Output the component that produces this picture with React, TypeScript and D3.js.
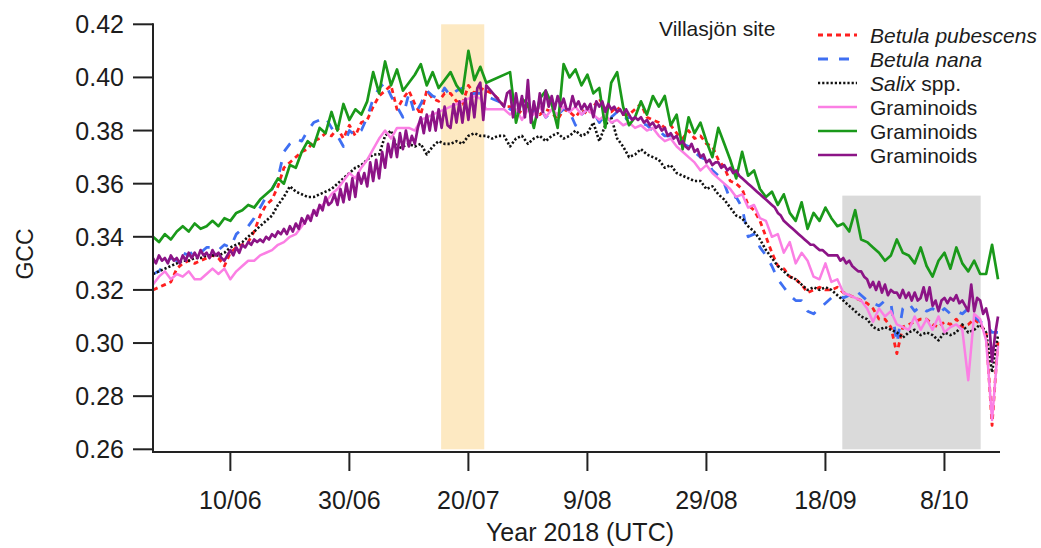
import React from "react";
import * as d3 from "d3";

// time axis: one value per day from 28 May 2018 (purple series: two per day)
const startDate = Date.UTC(2018, 4, 28);
const endDate = Date.UTC(2018, 9, 17, 8);
const DAY = 86400000;

const xTickDates = [
  Date.UTC(2018, 5, 10), Date.UTC(2018, 5, 30), Date.UTC(2018, 6, 20), Date.UTC(2018, 7, 9),
  Date.UTC(2018, 7, 29), Date.UTC(2018, 8, 18), Date.UTC(2018, 9, 8),
];
const xTickLabels = ["10/06", "30/06", "20/07", "9/08", "29/08", "18/09", "8/10"];
const yTicks = [0.26, 0.28, 0.3, 0.32, 0.34, 0.36, 0.38, 0.4, 0.42];

// shaded periods
const peakBand = [Date.UTC(2018, 6, 15, 10), Date.UTC(2018, 6, 22, 16)];
const autumnBand = [Date.UTC(2018, 8, 20, 20), Date.UTC(2018, 9, 14, 2)];
const autumnBandTop = 0.3555;

const betulaPubescens = [
  0.320, 0.321, 0.322, 0.323, 0.328, 0.330, 0.331, 0.330, 0.331, 0.332,
  0.333, 0.332, 0.329, 0.334, 0.336, 0.337, 0.338, 0.342, 0.348, 0.352,
  0.354, 0.359, 0.366, 0.368, 0.370, 0.372, 0.373, 0.376, 0.377, 0.379,
  0.378, 0.381, 0.377, 0.382, 0.378, 0.383, 0.384, 0.389, 0.393, 0.395,
  0.397, 0.388, 0.392, 0.395, 0.390, 0.386, 0.395, 0.392, 0.391, 0.394,
  0.394, 0.391, 0.390, 0.397, 0.394, 0.396, 0.395, 0.394, 0.392, 0.389,
  0.389, 0.385, 0.388, 0.389, 0.387, 0.386, 0.388, 0.387, 0.384, 0.388,
  0.387, 0.385, 0.388, 0.386, 0.389, 0.392, 0.388, 0.387, 0.389, 0.386,
  0.386, 0.388, 0.390, 0.385, 0.384, 0.383, 0.381, 0.382, 0.379, 0.377,
  0.380, 0.377, 0.378, 0.375, 0.374, 0.369, 0.366, 0.361, 0.360, 0.358,
  0.352, 0.350, 0.346, 0.340, 0.334, 0.329, 0.328, 0.325, 0.324, 0.322,
  0.319, 0.320, 0.321, 0.320, 0.320, 0.321, 0.319, 0.318, 0.317, 0.316,
  0.315, 0.313, 0.309, 0.309, 0.306, 0.296, 0.306, 0.307, 0.308, 0.309,
  0.309, 0.307, 0.306, 0.308, 0.307, 0.309, 0.306, 0.307, 0.309, 0.307,
  0.304, 0.269, 0.301,
];

const betulaNana = [
  0.326, 0.327, 0.330, 0.332, 0.331, 0.334, 0.333, 0.335, 0.334, 0.336,
  0.336, 0.335, 0.337, 0.336, 0.341, 0.343, 0.344, 0.347, 0.351, 0.355,
  0.358, 0.362, 0.372, 0.375, 0.377, 0.376, 0.380, 0.383, 0.384, 0.385,
  0.381, 0.378, 0.374, 0.380, 0.378, 0.380, 0.385, 0.392, 0.396, 0.398,
  0.393, 0.389, 0.385, 0.394, 0.386, 0.390, 0.395, 0.393, 0.392, 0.396,
  0.393, 0.395, 0.396, 0.393, 0.394, 0.394, 0.393, 0.392, 0.391, 0.390,
  0.388, 0.387, 0.386, 0.388, 0.387, 0.389, 0.385, 0.387, 0.386, 0.388,
  0.387, 0.382, 0.386, 0.388, 0.387, 0.383, 0.386, 0.385, 0.387, 0.384,
  0.385, 0.384, 0.383, 0.382, 0.380, 0.380, 0.378, 0.378, 0.376, 0.375,
  0.374, 0.372, 0.370, 0.369, 0.365, 0.363, 0.360, 0.354, 0.355, 0.351,
  0.340, 0.341, 0.336, 0.333, 0.329, 0.324, 0.321, 0.318, 0.316, 0.316,
  0.312, 0.311, 0.313, 0.315, 0.317, 0.318, 0.317, 0.318, 0.320, 0.318,
  0.316, 0.315, 0.314, 0.316, 0.315, 0.300, 0.313, 0.315, 0.312, 0.314,
  0.312, 0.313, 0.311, 0.313, 0.311, 0.312, 0.311, 0.313, 0.310, 0.308,
  0.307, 0.304, 0.304,
];

const salix = [
  0.326, 0.327, 0.328, 0.329, 0.330, 0.331, 0.331, 0.332, 0.332, 0.333,
  0.333, 0.333, 0.334, 0.336, 0.337, 0.338, 0.340, 0.342, 0.344, 0.346,
  0.348, 0.352, 0.355, 0.359, 0.357, 0.356, 0.355, 0.355, 0.356, 0.357,
  0.358, 0.360, 0.362, 0.364, 0.366, 0.367, 0.369, 0.371, 0.371, 0.378,
  0.380, 0.373, 0.374, 0.375, 0.374, 0.375, 0.371, 0.374, 0.376, 0.375,
  0.375, 0.376, 0.375, 0.378, 0.379, 0.378, 0.378, 0.377, 0.378, 0.378,
  0.374, 0.377, 0.378, 0.375, 0.377, 0.378, 0.376, 0.378, 0.379, 0.377,
  0.378, 0.380, 0.378, 0.379, 0.383, 0.376, 0.382, 0.385, 0.377, 0.374,
  0.370, 0.371, 0.373, 0.371, 0.370, 0.369, 0.366, 0.367, 0.364, 0.363,
  0.362, 0.361, 0.361, 0.358, 0.359, 0.356, 0.354, 0.351, 0.348, 0.347,
  0.344, 0.342, 0.339, 0.335, 0.332, 0.329, 0.327, 0.325, 0.324, 0.322,
  0.320, 0.321, 0.320, 0.321, 0.320, 0.318, 0.316, 0.314, 0.312, 0.310,
  0.309, 0.306, 0.305, 0.306, 0.305, 0.304, 0.302, 0.304, 0.305, 0.303,
  0.304, 0.303, 0.301, 0.304, 0.303, 0.304, 0.307, 0.304, 0.305, 0.307,
  0.304, 0.289, 0.303,
];

const graminoidsPink = [
  0.322, 0.325, 0.327, 0.324, 0.326, 0.325, 0.327, 0.324, 0.324, 0.326,
  0.328, 0.326, 0.328, 0.324, 0.327, 0.329, 0.331, 0.331, 0.333, 0.334,
  0.335, 0.337, 0.338, 0.340, 0.341, 0.344, 0.347, 0.349, 0.351, 0.353,
  0.356, 0.358, 0.361, 0.364, 0.362, 0.366, 0.369, 0.373, 0.377, 0.380,
  0.377, 0.381, 0.381, 0.381, 0.380, 0.384, 0.385, 0.386, 0.387, 0.388,
  0.389, 0.390, 0.391, 0.392, 0.393, 0.392, 0.388, null, null, 0.388,
  0.386, 0.388, 0.384, 0.388, 0.386, 0.389, 0.385, 0.388, 0.386, 0.389,
  0.387, 0.389, 0.386, 0.388, 0.386, 0.384, 0.386, 0.383, 0.384, 0.382,
  0.383, 0.381, 0.382, 0.380, 0.381, 0.378, 0.376, 0.377, 0.374, 0.372,
  0.370, 0.368, 0.365, 0.367, 0.364, 0.362, 0.360, 0.358, 0.355, 0.356,
  0.351, 0.352, 0.347, 0.346, 0.340, 0.341, 0.334, 0.338, 0.330, 0.334,
  0.331, 0.325, 0.324, 0.330, 0.323, 0.324, 0.319, 0.318, 0.317, 0.316,
  0.313, 0.308, 0.313, 0.310, 0.312, 0.307, 0.306, 0.305, 0.310, 0.305,
  0.309, 0.305, 0.310, 0.304, 0.306, 0.307, 0.305, 0.286, 0.311, 0.309,
  0.301, 0.271, 0.299,
];

const graminoidsGreen = [
  0.340, 0.338, 0.341, 0.339, 0.342, 0.344, 0.342, 0.345, 0.343, 0.344,
  0.346, 0.344, 0.347, 0.346, 0.349, 0.350, 0.352, 0.351, 0.354, 0.356,
  0.358, 0.362, 0.360, 0.367, 0.366, 0.372, 0.376, 0.374, 0.381, 0.379,
  0.387, 0.380, 0.390, 0.384, 0.388, 0.386, 0.391, 0.402, 0.394, 0.406,
  0.397, 0.403, 0.395, 0.398, 0.401, 0.405, 0.397, 0.402, 0.396, 0.399,
  0.402, 0.397, 0.394, 0.410, 0.399, 0.404, 0.398, null, null, null,
  0.402, 0.383, 0.392, 0.390, 0.381, 0.392, 0.395, 0.390, 0.381, 0.405,
  0.400, 0.403, 0.397, 0.401, 0.394, 0.396, 0.381, 0.398, 0.402, 0.389,
  0.382, 0.385, 0.391, 0.386, 0.393, 0.389, 0.393, 0.382, 0.386, 0.373,
  0.385, 0.379, 0.383, 0.376, 0.370, 0.381, 0.375, 0.369, 0.362, 0.372,
  0.363, 0.365, 0.358, 0.355, 0.357, 0.352, 0.356, 0.349, 0.346, 0.353,
  0.343, 0.349, 0.346, 0.351, 0.347, 0.344, 0.345, 0.342, 0.350, 0.339,
  0.338, 0.336, 0.334, 0.331, 0.333, 0.339, 0.334, 0.333, 0.330, 0.336,
  0.329, 0.325, 0.331, 0.334, 0.328, 0.336, 0.330, 0.327, 0.331, 0.326,
  0.326, 0.337, 0.324,
];

// two readings per day
const graminoidsPurple = [
  0.332, 0.330, 0.333, 0.331, 0.332, 0.330, 0.333, 0.331, 0.332, 0.330,
  0.333, 0.331, 0.334, 0.332, 0.334, 0.332, 0.335, 0.333, 0.334, 0.332,
  0.335, 0.333, 0.334, 0.332, 0.331, 0.333, 0.335, 0.333, 0.336, 0.334,
  0.337, 0.336, 0.338, 0.337, 0.339, 0.338, 0.339, 0.338, 0.340, 0.339,
  0.341, 0.340, 0.342, 0.341, 0.343, 0.341, 0.344, 0.342, 0.345, 0.343,
  0.347, 0.345, 0.348, 0.346, 0.350, 0.348, 0.352, 0.350, 0.355, 0.352,
  0.353, 0.356, 0.352, 0.358, 0.353, 0.360, 0.354, 0.362, 0.355, 0.364,
  0.360, 0.364, 0.359, 0.368, 0.361, 0.369, 0.362, 0.372, 0.366, 0.375,
  0.370, 0.377, 0.370, 0.379, 0.373, 0.380, 0.374, 0.378, 0.375, 0.381,
  0.385, 0.379, 0.386, 0.380, 0.387, 0.380, 0.388, 0.381, 0.389, 0.382,
  0.381, 0.390, 0.383, 0.391, 0.383, 0.392, 0.384, 0.394, 0.385, 0.396,
  0.398, 0.384, 0.397, null, null, null, null, null, 0.389, 0.394,
  0.395, 0.385, 0.394, 0.387, 0.393, 0.385, 0.399, 0.383, 0.391, 0.385,
  0.394, 0.387, 0.395, 0.389, 0.393, 0.388, 0.393, 0.389, 0.392, 0.388,
  0.388, 0.393, 0.389, 0.391, 0.388, 0.390, 0.388, 0.390, 0.385, 0.391,
  0.389, 0.391, 0.387, 0.390, 0.388, 0.389, 0.387, 0.388, 0.386, 0.388,
  0.386, 0.384, 0.385, 0.384, 0.385, 0.383, 0.384, 0.382, 0.383, 0.381,
  0.382, 0.380, 0.381, 0.378, 0.379, 0.377, 0.378, 0.375, 0.376, 0.374,
  0.373, 0.375, 0.372, 0.373, 0.370, 0.371, 0.368, 0.369, 0.367, 0.368,
  0.368, 0.366, 0.367, 0.365, 0.366, 0.364, 0.365, 0.363, 0.362, 0.361,
  0.360, 0.359, 0.358, 0.357, 0.356, 0.355, 0.354, 0.353, 0.352, 0.351,
  0.349, 0.348, 0.346, 0.345, 0.344, 0.343, 0.342, 0.341, 0.340, 0.339,
  0.338, 0.337, 0.337, 0.336, 0.335, 0.335, 0.334, 0.333, 0.333, 0.333,
  0.333, 0.331, 0.332, 0.330, 0.331, 0.329, 0.328, 0.327, 0.327, 0.325,
  0.324, 0.321, 0.323, 0.320, 0.323, 0.319, 0.322, 0.318, 0.320, 0.319,
  0.319, 0.317, 0.320, 0.317, 0.319, 0.316, 0.319, 0.316, 0.317, 0.321,
  0.316, 0.321, 0.314, 0.316, 0.312, 0.316, 0.317, 0.315, 0.317, 0.316,
  0.318, 0.315, 0.316, 0.314, 0.312, 0.322, 0.312, 0.317, 0.316, 0.311,
  0.313, 0.308, 0.293, 0.303, 0.310,
];

const series = [
  { label: "Betula pubescens", values: betulaPubescens, step: 1, color: "#ff1f1f", width: 2.8, dash: "5,4" },
  { label: "Betula nana", values: betulaNana, step: 1, color: "#3f6ff2", width: 2.8, dash: "10,11" },
  { label: "Salix", values: salix, step: 1, color: "#111111", width: 2.6, dash: "2.2,2" },
  { label: "Graminoids", values: graminoidsPink, step: 1, color: "#fb7fe4", width: 2.5, dash: null },
  { label: "Graminoids", values: graminoidsGreen, step: 1, color: "#1a991a", width: 2.7, dash: null },
  { label: "Graminoids", values: graminoidsPurple, step: 0.5, color: "#8c1486", width: 2.7, dash: null },
];

const FONT = "'Liberation Sans', Arial, Helvetica, sans-serif";
const TEXT = "#1c1c1c";

export default function App() {
  const width = 1041;
  const height = 548;
  const left = 153, right = 1000, top = 24.3, bottom = 449.3;
  const axisY = 452;

  const x = d3.scaleUtc().domain([startDate, endDate]).range([left, right]);
  const y = d3.scaleLinear().domain([0.26, 0.42]).range([bottom, top]);

  const line = d3.line<{ t: number; v: number }>()
    .x(d => x(d.t))
    .y(d => y(d.v));

  const paths = series.map(s => {
    const pts = s.values
      .map((v, i) => ({ t: startDate + i * s.step * DAY, v: v as number }))
      .filter(p => p.v != null);
    return line(pts) || "";
  });

  const legendTop = 35;
  const legendStep = 24;

  return (
    <svg width={width} height={height} style={{ position: "absolute", left: 0, top: 0, background: "#fff" }}
      fontFamily={FONT}>
      {/* shaded periods */}
      <rect x={x(peakBand[0])} y={y(0.42)} width={x(peakBand[1]) - x(peakBand[0])} height={y(0.26) - y(0.42)}
        fill="#fde9c2" />
      <rect x={x(autumnBand[0])} y={y(autumnBandTop)} width={x(autumnBand[1]) - x(autumnBand[0])}
        height={y(0.26) - y(autumnBandTop)} fill="#dadada" />

      {series.map((s, i) => (
        <path key={i} d={paths[i]} fill="none" stroke={s.color} strokeWidth={s.width}
          strokeDasharray={s.dash || undefined} strokeLinejoin="round" />
      ))}

      {/* y axis */}
      <line x1={left} x2={left} y1={top - 1} y2={axisY + 1} stroke="#222" strokeWidth={2} />
      {yTicks.map(t => (
        <g key={t}>
          <line x1={left - 20} x2={left} y1={y(t)} y2={y(t)} stroke="#222" strokeWidth={2} />
          <text x={124} y={y(t) + 9} textAnchor="end" fontSize={25} fill={TEXT}>{t.toFixed(2)}</text>
        </g>
      ))}
      <text transform={`translate(33, 254) rotate(-90)`} textAnchor="middle" fontSize={23} fill={TEXT}>GCC</text>

      {/* x axis */}
      <line x1={left - 1} x2={right} y1={axisY} y2={axisY} stroke="#222" strokeWidth={2} />
      {xTickDates.map((t, i) => (
        <g key={t}>
          <line x1={x(t)} x2={x(t)} y1={axisY} y2={axisY + 19} stroke="#222" strokeWidth={2} />
          <text x={x(t)} y={509} textAnchor="middle" fontSize={25} fill={TEXT}>{xTickLabels[i]}</text>
        </g>
      ))}
      <text x={580} y={541} textAnchor="middle" fontSize={25} fill={TEXT}>Year 2018 (UTC)</text>

      {/* site + legend */}
      <text x={659} y={36} fontSize={21} fill={TEXT}>Villasjön site</text>
      {series.map((s, i) => {
        const ly = legendTop + i * legendStep;
        return (
          <g key={"lg" + i}>
            <line x1={818} x2={857} y1={ly} y2={ly} stroke={s.color} strokeWidth={s.width}
              strokeDasharray={s.dash || undefined} />
            <text x={870} y={ly + 7.5} fontSize={21} fill={TEXT}>
              {i < 2 ? <tspan fontStyle="italic">{s.label}</tspan> : null}
              {i === 2 ? <><tspan fontStyle="italic">Salix</tspan> spp.</> : null}
              {i > 2 ? s.label : null}
            </text>
          </g>
        );
      })}
    </svg>
  );
}
